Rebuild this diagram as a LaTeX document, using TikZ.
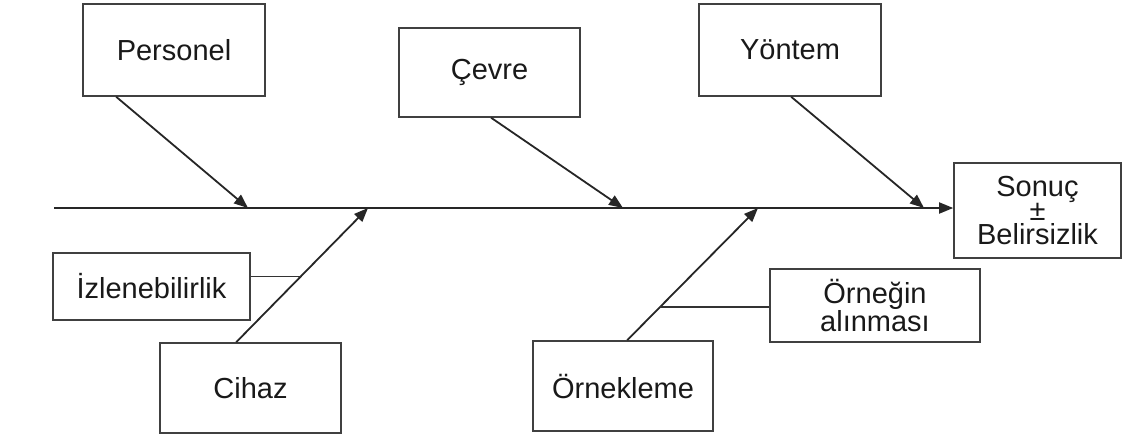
\documentclass[tikz,border=0pt]{standalone}
\usepackage{fontspec}
\setmainfont{Liberation Sans}
\usetikzlibrary{arrows.meta,calc}
\begin{document}
\begin{tikzpicture}[x=1pt,y=-1pt,
  box/.style={draw=black!75, line width=1.6pt, rectangle, inner sep=0pt,
    font=\fontsize{29}{24}\selectfont, align=center, text=black!90},
  bone/.style={draw=black!85, line width=1.8pt, -{Triangle[length=14pt,width=11pt]}},
  twig/.style={draw=black!80, line width=1.8pt}]
\useasboundingbox (0,0) rectangle (1123,439);

% cause boxes
\node[box, minimum width=182pt, minimum height=92pt] (pers)  at (174,50)     {Personel};
\node[box, minimum width=181pt, minimum height=89pt] (cevre) at (489.5,72.5) {Çevre};
\node[box, minimum width=182pt, minimum height=92pt] (yon)   at (790,50)     {Yöntem};
\node[box, minimum width=197pt, minimum height=67pt] (izl)   at (151.5,286.5){İzlenebilirlik};
\node[box, minimum width=181pt, minimum height=90pt] (cihaz) at (250.5,388)  {Cihaz};
\node[box, minimum width=180pt, minimum height=90pt] (ornk)  at (623,386)    {Örnekleme};
\node[box, minimum width=210pt, minimum height=73pt] (orng)  at (875,305.5)  {Örneğin\\alınması};
% effect box
\node[box, minimum width=167pt, minimum height=95pt] (sonuc) at (1037.5,210.5) {Sonuç\\±\\Belirsizlik};

% spine
\coordinate (tail) at (54,208);
\draw[bone] (tail) -- (tail -| sonuc.west);

% joints on the spine
\coordinate (pj) at (248,208);
\coordinate (cj) at (623,208);
\coordinate (yj) at (924,208);
\coordinate (hj) at (368,208);
\coordinate (oj) at (758,208);

% main bones
\draw[bone] ([xshift=34pt]pers.south west)  -- (pj);
\draw[bone] ([xshift=93pt]cevre.south west) -- (cj);
\draw[bone] ([xshift=93pt]yon.south west)   -- (yj);
\draw[bone] ([xshift=77pt]cihaz.north west) -- (hj);
\draw[bone] ([xshift=95pt]ornk.north west)  -- (oj);

% sub-causes
\coordinate (hk) at ($([xshift=77pt]cihaz.north west)!0.489!(hj)$);
\draw[twig] (izl.east |- hk) -- (hk);
\coordinate (ok) at ($([xshift=95pt]ornk.north west)!0.25!(oj)$);
\draw[twig] (ok) -- (orng.west |- ok);
\end{tikzpicture}
\end{document}
